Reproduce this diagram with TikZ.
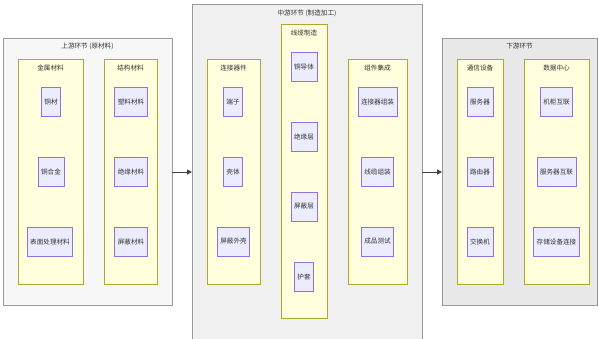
\documentclass[tikz,border=0pt]{standalone}
\usepackage{fontspec}
\newfontfamily\cjk{Noto Sans CJK SC}
\usetikzlibrary{arrows.meta}
\definecolor{nodefill}{HTML}{ECECFF}
\definecolor{nodeline}{HTML}{9370DB}
\definecolor{clfill}{HTML}{FFFFDE}
\definecolor{clline}{HTML}{AAAA33}
\definecolor{outline}{HTML}{999999}
\tikzset{
  item/.style={draw=nodeline, fill=nodefill, line width=0.8pt, minimum height=29pt, inner xsep=3pt, inner ysep=0pt, font=\cjk\fontsize{6.6}{7}\selectfont, text=black!80},
  cluster/.style={draw=clline, fill=clfill, line width=0.6pt},
  outerbox/.style={draw=outline, line width=0.6pt},
  ttl/.style={font=\cjk\fontsize{6.6}{7}\selectfont, text=black!80, inner sep=0pt},
  flow/.style={draw=black!75, line width=1pt, -{Triangle[length=5pt,width=5pt]}}
}
\begin{document}
\begin{tikzpicture}[x=1pt,y=-1pt]
\useasboundingbox (0,0) rectangle (599,338);
% outer boxes
\draw[outerbox, fill=black!3] (3,38) rectangle (172,305);
\draw[outerbox, fill=black!6] (192,4) rectangle (422,340);
\draw[outerbox, fill=black!9] (442,38) rectangle (597,305);
\node[ttl] (tu) at (87.5,46) {上游环节 (原材料)};
\node[ttl] (tm) at (307,13) {中游环节 (制造加工)};
\node[ttl] (td) at (519.5,46) {下游环节};
% clusters upstream
\draw[cluster] (18,59) rectangle (83,284);
\draw[cluster] (104,59) rectangle (157,284);
\node[ttl] (c1) at (50.5,68) {金属材料};
\node[ttl] (c2) at (130.5,68) {结构材料};
% clusters middle
\draw[cluster] (207,59) rectangle (260,284);
\draw[cluster] (281,24) rectangle (327,318);
\draw[cluster] (348,59) rectangle (407,284);
\node[ttl] (c3) at (233.5,68) {连接器件};
\node[ttl] (c4) at (304,33) {线缆制造};
\node[ttl] (c5) at (377.5,68) {组件集成};
% clusters downstream
\draw[cluster] (457,59) rectangle (503,284);
\draw[cluster] (524,59) rectangle (589,284);
\node[ttl] (c6) at (480,68) {通信设备};
\node[ttl] (c7) at (556.5,68) {数据中心};
% items upstream
\node[item] (a1) at (51,102) {铜材};
\node[item] (a2) at (51,172) {铜合金};
\node[item] (a3) at (50,241.5) {表面处理材料};
\node[item] (b1) at (131,102) {塑料材料};
\node[item] (b2) at (131,172) {绝缘材料};
\node[item] (b3) at (131,241.5) {屏蔽材料};
% items middle
\node[item] (m1) at (233,102) {端子};
\node[item] (m2) at (233,172) {壳体};
\node[item] (m3) at (233.5,241.5) {屏蔽外壳};
\node[item] (w1) at (304,67) {铜导体};
\node[item] (w2) at (304,137) {绝缘层};
\node[item] (w3) at (304,206.5) {屏蔽层};
\node[item] (w4) at (304,276.5) {护套};
\node[item] (g1) at (377.5,102) {连接器组装};
\node[item] (g2) at (377.5,172) {线缆组装};
\node[item] (g3) at (377.5,241.5) {成品测试};
% items downstream
\node[item] (d1) at (480,102) {服务器};
\node[item] (d2) at (480,172) {路由器};
\node[item] (d3) at (480,241.5) {交换机};
\node[item] (e1) at (556.5,102) {机柜互联};
\node[item] (e2) at (556.5,172) {服务器互联};
\node[item] (e3) at (556.5,241.5) {存储设备连接};
% connectors
\coordinate (up) at (172,172);
\coordinate (midl) at (192,172);
\coordinate (midr) at (422,172);
\coordinate (down) at (442,172);
\draw[flow] (up) -- (midl);
\draw[flow] (midr) -- (down);
\end{tikzpicture}
\end{document}
